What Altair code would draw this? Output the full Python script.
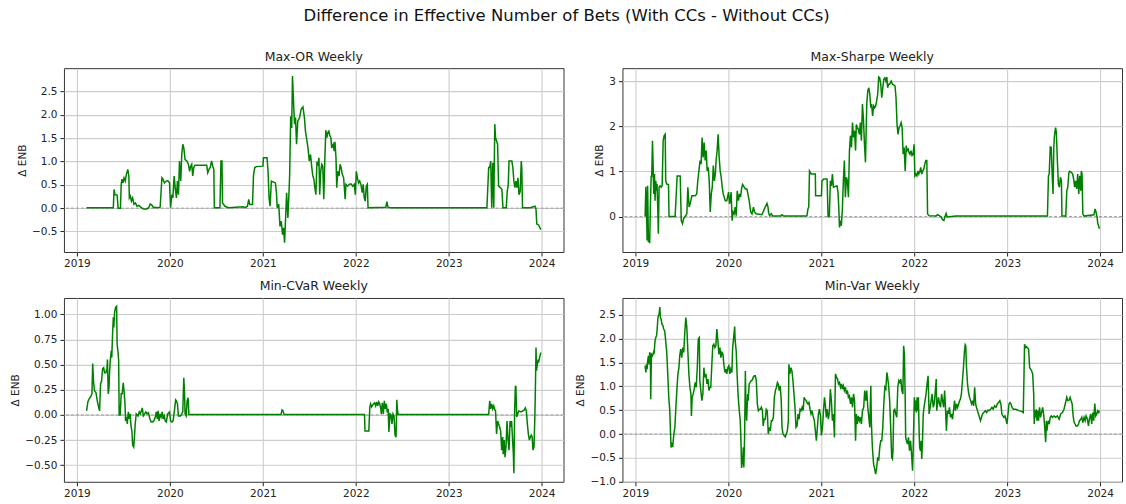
import altair as alt
import pandas as pd

# Weekly series start on this Friday; day offsets below are counted from it.
START = "2019-02-08"
FONT = "DejaVu Sans"
MAIN_TITLE = "Difference in Effective Number of Bets (With CCs - Without CCs)"
Y_TITLE = "Δ ENB"

MAX_OR_DAYS = [
    0, 105, 108, 111, 120, 124, 133, 136, 139, 143, 147, 152, 156, 162, 166, 168, 172, 176, 181, 186,
    192, 198, 205, 215, 224, 237, 244, 250, 257, 263, 270, 276, 289, 296, 300, 306, 313, 319, 326, 330,
    335, 339, 344, 348, 353, 357, 361, 365, 370, 374, 378, 382, 387, 394, 400, 405, 409, 413, 417, 421,
    426, 472, 476, 481, 486, 491, 497, 500, 502, 524, 528, 532, 534, 544, 557, 615, 622, 632, 637, 641,
    652, 656, 661, 667, 693, 695, 709, 713, 717, 721, 726, 742, 746, 749, 755, 760, 765, 770, 774, 778,
    782, 786, 791, 795, 798, 802, 806, 809, 813, 817, 821, 825, 830, 837, 843, 850, 856, 860, 864, 870,
    875, 880, 885, 889, 893, 897, 901, 905, 909, 913, 916, 920, 924, 928, 932, 936, 940, 944, 948, 952,
    956, 960, 963, 969, 973, 976, 980, 983, 987, 992, 996, 1000, 1005, 1010, 1016, 1019, 1026, 1032, 1039, 1046,
    1052, 1056, 1060, 1065, 1069, 1073, 1078, 1083, 1087, 1091, 1095, 1099, 1103, 1106, 1176, 1180, 1184, 1195, 1573, 1580,
    1584, 1588, 1592, 1596, 1600, 1604, 1607, 1611, 1615, 1619, 1626, 1632, 1636, 1649, 1653, 1657, 1660, 1671, 1675, 1679,
    1683, 1687, 1691, 1695, 1699, 1704, 1708, 1710, 1713, 1743, 1762, 1766, 1769, 1776, 1785,
]
MAX_OR_VALUES = [
    0.01, 0.01, 0.40, 0.29, 0.28, 0.00, 0.00, 0.51, 0.62, 0.54, 0.65, 0.58, 0.72, 0.83, 0.69, 0.22, 0.26, 0.15, 0.22, 0.08,
    0.11, 0.04, 0.06, 0.01, -0.02, -0.02, 0.01, 0.09, 0.06, 0.01, 0.02, 0.01, 0.02, 0.65, 0.62, 0.54, 0.58, 0.59, 0.54, 0.01,
    0.29, 0.22, 0.69, 0.44, 0.22, 0.58, 0.29, 1.01, 0.58, 1.15, 1.37, 1.29, 1.04, 1.01, 0.94, 0.79, 0.90, 0.94, 0.69, 0.87,
    0.92, 0.92, 0.76, 0.83, 0.87, 1.01, 0.87, 0.83, 0.01, 0.01, 1.01, 1.01, 0.11, 0.04, 0.01, 0.03, 0.01, 0.04, 0.19, 0.08,
    0.08, 0.72, 0.87, 0.89, 0.90, 1.08, 1.08, 0.79, 0.22, 0.04, 0.58, 0.54, 0.33, 0.01, 0.08, -0.39, -0.28, -0.57, -0.42, -0.74,
    -0.21, 0.33, -0.21, 0.29, 0.72, 1.97, 1.72, 2.83, 2.30, 1.80, 1.94, 1.37, 1.87, 1.94, 2.12, 2.17, 1.94, 1.65, 1.51, 1.29,
    1.01, 1.15, 0.87, 0.69, 0.62, 0.44, 0.29, 0.97, 0.94, 1.08, 0.29, 0.79, 0.94, 0.90, 0.19, 1.01, 1.67, 1.51, 1.62, 1.65,
    1.55, 1.51, 1.29, 1.37, 1.22, 1.42, 1.08, 0.44, 0.79, 0.69, 0.94, 0.87, 0.72, 0.65, 0.19, 0.51, 0.47, 0.51, 0.52, 0.47,
    0.51, 0.29, 0.79, 0.62, 0.54, 0.58, 0.51, 0.33, 0.51, 0.22, 0.15, 0.47, 0.51, 0.01, 0.02, 0.14, 0.02, 0.01, 0.01, 0.87,
    0.87, 1.01, 0.01, 0.97, 0.01, 1.80, 1.51, 1.44, 1.37, 0.47, 0.44, 0.40, 0.01, 0.01, 0.36, 0.51, 1.01, 1.01, 0.87, 0.58,
    0.44, 0.58, 0.44, 0.65, 0.29, 0.36, 1.01, 0.87, 0.01, 0.01, 0.04, -0.03, -0.34, -0.36, -0.46,
]

MAX_SHARPE_DAYS = [
    0, 3, 5, 8, 10, 13, 16, 18, 21, 24, 26, 29, 31, 34, 37, 39, 42, 45, 47, 50,
    52, 55, 59, 63, 67, 71, 75, 79, 81, 85, 92, 94, 118, 126, 138, 142, 147, 151, 157, 164,
    168, 173, 177, 184, 197, 203, 207, 213, 216, 220, 224, 228, 232, 236, 240, 244, 248, 252, 256, 260,
    264, 268, 272, 276, 279, 283, 287, 291, 295, 299, 303, 307, 315, 321, 328, 332, 336, 338, 342, 346,
    350, 354, 358, 362, 367, 371, 375, 379, 383, 394, 400, 404, 409, 415, 420, 426, 430, 436, 459, 466,
    472, 479, 483, 485, 489, 496, 501, 531, 538, 544, 630, 636, 640, 643, 646, 649, 653, 669, 670, 693,
    695, 702, 715, 719, 724, 728, 732, 736, 740, 754, 758, 761, 764, 768, 771, 775, 779, 783, 787, 791,
    795, 799, 803, 807, 811, 815, 819, 823, 827, 830, 834, 838, 842, 846, 850, 854, 858, 862, 866, 871,
    875, 879, 883, 887, 890, 894, 898, 902, 906, 910, 914, 918, 922, 926, 930, 934, 938, 942, 946, 950,
    953, 957, 961, 967, 972, 982, 986, 990, 994, 998, 1002, 1006, 1010, 1014, 1018, 1022, 1026, 1030, 1034, 1037,
    1041, 1045, 1049, 1053, 1057, 1060, 1064, 1068, 1072, 1075, 1079, 1083, 1087, 1091, 1095, 1099, 1103, 1107, 1110, 1115,
    1141, 1150, 1156, 1163, 1169, 1174, 1178, 1183, 1187, 1203, 1220, 1581, 1585, 1588, 1592, 1596, 1600, 1603, 1606, 1608,
    1611, 1613, 1616, 1620, 1624, 1628, 1632, 1636, 1638, 1653, 1657, 1661, 1665, 1668, 1675, 1680, 1684, 1688, 1692, 1696,
    1700, 1704, 1708, 1712, 1714, 1717, 1720, 1725, 1764, 1768, 1772, 1776, 1779, 1782, 1785,
]
MAX_SHARPE_VALUES = [
    0.00, 0.66, 0.35, -0.53, 0.68, -0.57, -0.38, -0.59, 0.32, 0.90, 0.87, 1.68, 1.24, 0.50, 0.94, 0.35, 0.79, 0.57, 0.72, 0.13,
    -0.38, 0.65, 0.68, 0.65, 0.68, 1.68, 1.79, 1.82, 0.79, 0.72, 0.71, 0.00, 0.00, 0.90, 0.90, -0.09, -0.16, -0.05, 0.00, 0.06,
    0.65, 0.21, 0.28, 0.46, 0.46, 0.50, 0.79, 1.09, 1.24, 1.16, 1.75, 1.31, 1.64, 1.24, 1.46, 1.01, 1.09, 0.79, 0.10, 0.50,
    0.65, 1.13, 0.79, 0.94, 1.24, 1.46, 1.82, 1.31, 1.01, 0.87, 0.65, 0.50, 0.35, 0.35, 0.54, 0.28, 0.43, 0.54, -0.09, 0.10,
    0.06, 0.21, 0.02, 0.57, 0.35, 0.50, 0.43, 0.61, 0.71, 0.61, 0.61, 0.50, 0.35, 0.10, 0.06, 0.21, 0.10, 0.06, 0.04, 0.13,
    0.21, 0.29, 0.21, 0.10, 0.02, 0.06, 0.01, 0.01, 0.04, 0.01, 0.01, 0.02, 0.17, 0.21, 1.01, 0.98, 0.94, 0.94, 0.46, 0.46,
    0.79, 0.83, 0.83, 0.00, 0.00, 0.79, 0.68, 0.94, 0.65, 0.68, 0.54, 0.21, -0.24, -0.09, -0.20, 0.13, 0.79, 1.24, 0.43, 0.87,
    0.79, 0.43, 1.46, 1.79, 1.53, 2.08, 1.75, 1.90, 1.46, 2.04, 1.97, 1.93, 1.82, 2.08, 1.68, 2.49, 2.15, 1.60, 1.20, 2.49,
    2.78, 2.85, 2.71, 2.41, 2.49, 2.23, 2.45, 2.41, 2.45, 2.56, 2.71, 3.09, 3.07, 2.93, 2.63, 2.85, 3.04, 3.07, 3.00, 3.09,
    2.85, 2.93, 2.93, 3.00, 2.93, 2.89, 2.63, 2.04, 1.82, 1.97, 2.01, 2.08, 1.97, 1.38, 1.53, 1.01, 1.57, 1.46, 1.49, 1.42,
    1.38, 1.46, 1.35, 1.38, 1.60, 0.90, 0.94, 0.90, 1.01, 0.94, 0.98, 1.09, 0.94, 1.01, 1.05, 1.16, 1.24, 1.24, 0.06, 0.02,
    0.01, 0.04, 0.02, -0.01, -0.07, -0.09, -0.01, 0.07, -0.01, 0.00, 0.01, 0.01, 0.90, 0.94, 1.54, 1.53, 0.87, 0.50, 1.53, 1.75,
    1.90, 1.97, 1.86, 1.24, 0.72, 0.65, 0.87, 0.79, 0.01, 0.01, 0.57, 0.65, 0.96, 1.00, 0.98, 0.94, 0.83, 0.65, 0.79, 0.61,
    0.94, 0.50, 0.90, 0.57, 1.01, 0.94, 0.06, 0.01, 0.04, 0.17, 0.10, -0.01, -0.16, -0.20, -0.27,
]

MIN_CVAR_DAYS = [
    0, 5, 10, 16, 21, 24, 27, 31, 37, 42, 47, 51, 55, 59, 63, 67, 71, 76, 80, 82,
    85, 88, 90, 93, 97, 99, 102, 105, 107, 110, 114, 118, 120, 123, 126, 128, 132, 136, 140, 144,
    147, 151, 153, 157, 160, 164, 168, 171, 175, 178, 181, 185, 188, 191, 195, 202, 207, 211, 215, 219,
    223, 228, 233, 238, 243, 249, 254, 259, 264, 270, 274, 278, 281, 285, 289, 293, 297, 301, 305, 309,
    313, 319, 326, 330, 335, 340, 346, 350, 353, 357, 361, 369, 374, 378, 382, 385, 387, 391, 395, 399,
    402, 764, 768, 772, 776, 1092, 1094, 1109, 1113, 1116, 1120, 1124, 1128, 1132, 1136, 1140, 1144, 1148, 1152, 1156,
    1158, 1162, 1166, 1170, 1174, 1178, 1181, 1185, 1188, 1192, 1196, 1200, 1204, 1208, 1212, 1216, 1219, 1221, 1224, 1580,
    1584, 1588, 1592, 1596, 1600, 1603, 1607, 1611, 1615, 1619, 1623, 1627, 1631, 1635, 1637, 1641, 1644, 1648, 1652, 1656,
    1660, 1664, 1668, 1670, 1674, 1677, 1679, 1682, 1685, 1687, 1690, 1694, 1698, 1707, 1720, 1724, 1728, 1732, 1736, 1740,
    1744, 1747, 1751, 1754, 1758, 1761, 1763, 1766, 1768, 1771, 1774, 1776, 1780, 1785,
]
MIN_CVAR_VALUES = [
    0.04, 0.13, 0.16, 0.18, 0.21, 0.51, 0.34, 0.24, 0.22, 0.14, 0.08, 0.04, 0.31, 0.34, 0.46, 0.47, 0.42, 0.42, 0.46, 0.55,
    0.21, 0.27, 0.41, 0.54, 0.64, 0.57, 0.80, 0.97, 0.87, 1.02, 1.07, 1.08, 0.70, 0.64, 0.54, 0.00, 0.00, 0.21, 0.21, 0.32,
    0.24, 0.11, -0.06, -0.02, -0.09, 0.03, -0.04, 0.01, -0.12, -0.16, -0.30, -0.32, -0.22, -0.09, 0.01, -0.01, 0.03, 0.01, 0.04, 0.07,
    -0.01, 0.01, 0.03, 0.01, 0.02, -0.04, -0.07, -0.07, -0.06, -0.02, 0.03, -0.04, 0.04, -0.06, 0.01, -0.02, 0.03, -0.04, -0.01, -0.06,
    -0.07, 0.01, 0.03, -0.06, -0.07, -0.06, 0.06, 0.15, 0.14, 0.11, -0.01, -0.01, 0.01, 0.03, 0.37, 0.21, 0.01, -0.01, 0.14, 0.17,
    0.003, 0.003, 0.05, 0.04, 0.003, 0.003, -0.16, -0.16, 0.08, 0.11, 0.08, 0.10, 0.11, 0.12, 0.09, 0.13, 0.09, 0.13, 0.11, 0.06,
    0.01, 0.12, 0.01, 0.14, 0.06, 0.11, 0.04, 0.06, -0.17, 0.01, 0.00, -0.09, 0.01, -0.01, -0.20, -0.22, 0.15, 0.06, 0.003, 0.003,
    0.14, 0.06, 0.11, 0.06, 0.09, 0.06, 0.04, -0.19, -0.06, -0.09, -0.12, -0.16, -0.35, -0.22, -0.39, -0.25, -0.42, -0.32, -0.06, -0.25,
    -0.35, -0.06, -0.12, -0.06, -0.25, -0.39, -0.58, 0.04, 0.29, 0.28, -0.02, 0.01, 0.04, 0.03, 0.05, 0.07, 0.04, -0.09, -0.19, -0.25,
    -0.22, -0.20, -0.22, -0.35, -0.32, -0.06, 0.17, 0.67, 0.44, 0.50, 0.55, 0.52, 0.57, 0.62,
]

MIN_VAR_DAYS = [
    0, 3, 5, 8, 10, 13, 16, 18, 21, 22, 25, 29, 33, 35, 39, 42, 45, 47, 50, 52,
    55, 58, 60, 63, 66, 70, 73, 77, 81, 85, 89, 93, 97, 100, 102, 106, 109, 113, 117, 121,
    125, 129, 133, 136, 140, 144, 148, 152, 156, 160, 164, 168, 172, 176, 180, 182, 185, 189, 193, 197,
    201, 205, 209, 213, 215, 219, 223, 227, 231, 235, 239, 243, 247, 251, 255, 258, 262, 266, 270, 274,
    278, 282, 286, 290, 294, 298, 302, 306, 310, 314, 318, 321, 325, 329, 333, 337, 341, 344, 348, 352,
    354, 358, 362, 366, 370, 374, 377, 379, 383, 386, 388, 391, 394, 396, 399, 403, 405, 409, 413, 417,
    421, 425, 429, 433, 437, 441, 445, 449, 453, 457, 461, 464, 468, 472, 476, 480, 484, 488, 492, 496,
    500, 504, 508, 512, 516, 520, 523, 527, 531, 535, 538, 542, 546, 551, 555, 559, 563, 565, 569, 573,
    577, 581, 585, 589, 593, 597, 601, 605, 609, 613, 617, 621, 625, 628, 632, 636, 640, 644, 648, 652,
    656, 660, 665, 669, 673, 677, 681, 685, 689, 693, 697, 701, 705, 708, 712, 716, 720, 724, 728, 732,
    736, 740, 744, 748, 752, 756, 760, 764, 768, 772, 775, 779, 783, 787, 791, 795, 799, 803, 807, 811,
    815, 819, 823, 827, 830, 834, 838, 842, 846, 850, 854, 859, 863, 867, 871, 875, 879, 883, 887, 889,
    892, 894, 898, 902, 906, 910, 914, 918, 922, 926, 930, 934, 938, 942, 946, 950, 953, 957, 961, 965,
    969, 972, 974, 977, 981, 985, 989, 993, 997, 1001, 1005, 1009, 1013, 1016, 1019, 1022, 1024, 1027, 1031, 1035,
    1039, 1043, 1047, 1051, 1053, 1056, 1058, 1061, 1064, 1066, 1069, 1072, 1074, 1077, 1079, 1082, 1085, 1087, 1090, 1093,
    1096, 1100, 1104, 1108, 1112, 1116, 1120, 1124, 1128, 1132, 1136, 1140, 1144, 1146, 1149, 1153, 1157, 1161, 1165, 1169,
    1173, 1177, 1180, 1184, 1188, 1192, 1196, 1200, 1204, 1208, 1212, 1216, 1220, 1224, 1228, 1232, 1236, 1239, 1243, 1247,
    1251, 1255, 1258, 1260, 1263, 1267, 1271, 1275, 1279, 1283, 1287, 1291, 1295, 1299, 1302, 1306, 1310, 1314, 1318, 1322,
    1326, 1331, 1337, 1342, 1347, 1352, 1358, 1363, 1368, 1373, 1379, 1384, 1389, 1394, 1398, 1402, 1406, 1410, 1414, 1418,
    1422, 1426, 1430, 1434, 1438, 1442, 1447, 1457, 1468, 1481, 1486, 1489, 1491, 1495, 1499, 1503, 1507, 1511, 1515, 1519,
    1523, 1527, 1529, 1532, 1535, 1537, 1540, 1543, 1546, 1550, 1554, 1558, 1562, 1566, 1570, 1574, 1577, 1579, 1582, 1585,
    1588, 1592, 1596, 1600, 1607, 1613, 1620, 1627, 1633, 1640, 1646, 1651, 1657, 1661, 1666, 1670, 1674, 1678, 1682, 1686,
    1690, 1693, 1699, 1703, 1707, 1712, 1716, 1720, 1725, 1729, 1733, 1738, 1742, 1746, 1751, 1755, 1759, 1763, 1767, 1771,
    1775, 1779, 1783, 1785,
]
MIN_VAR_VALUES = [
    1.43, 1.29, 1.46, 1.36, 1.53, 1.64, 1.46, 1.71, 1.57, 0.73, 1.67, 1.64, 1.71, 1.67, 1.95, 2.02, 2.06, 2.16, 2.41, 2.48,
    2.51, 2.66, 2.44, 2.41, 2.30, 2.27, 2.20, 2.16, 1.95, 1.71, 1.26, 0.77, 0.49, 0.00, -0.28, -0.21, -0.24, 0.00, 0.14, 0.56,
    0.94, 1.26, 1.39, 1.64, 1.78, 1.60, 1.81, 1.71, 2.13, 2.44, 2.23, 1.74, 1.26, 0.98, 0.84, 0.38, 0.77, 0.84, 0.94, 1.08,
    0.98, 1.39, 1.99, 2.02, 1.12, 0.91, 0.70, 0.84, 1.39, 1.19, 1.26, 1.05, 1.15, 0.91, 0.98, 0.98, 1.43, 1.85, 1.88, 1.81,
    1.85, 2.20, 1.95, 1.67, 1.81, 1.60, 1.71, 1.67, 1.43, 1.29, 1.36, 1.26, 1.39, 1.43, 1.26, 1.36, 1.29, 1.81, 2.02, 2.25,
    1.95, 1.74, 1.19, 0.77, 0.49, 0.28, -0.21, -0.71, -0.56, -0.28, -0.70, -0.07, 1.32, 0.63, 0.28, 0.84, 0.70, 1.05, 1.08, 1.12,
    1.13, 1.19, 1.22, 1.22, 1.12, 0.63, 0.49, 0.52, 0.52, 0.56, 0.49, 0.17, 0.31, 0.31, 0.52, 0.49, 0.00, 0.14, 0.07, 0.28,
    0.28, 0.35, 0.77, 0.91, 0.98, 1.08, 1.05, 0.91, 1.01, 0.70, 0.14, 0.00, -0.03, -0.06, 0.00, 0.07, 0.28, 1.46, 1.26, 1.39,
    1.32, 1.12, 0.84, 0.56, 0.14, 0.17, 0.42, 0.31, 0.52, 0.49, 0.56, 0.49, 0.77, 0.73, 0.71, 0.66, 0.63, 0.66, 0.52, 0.42,
    0.49, 0.38, 0.28, 0.07, -0.14, 0.14, 0.42, 0.52, 0.38, -0.03, 0.14, 0.49, 0.77, 0.63, 0.35, 0.52, 0.31, 0.45, 0.94, 0.70,
    0.28, 0.42, -0.07, 1.26, 1.19, 1.15, 1.05, 1.08, 0.98, 1.05, 0.94, 1.01, 0.91, 0.98, 0.84, 0.91, 0.77, 0.80, 0.63, 0.77,
    0.56, 0.84, 0.70, -0.14, 0.42, 0.21, 0.38, 0.28, 0.35, 0.21, 0.49, 0.56, 0.91, 0.70, 0.91, 0.56, 0.35, 0.14, 1.01, 0.28,
    -0.14, -0.35, -0.63, -0.73, -0.84, -0.70, -0.49, -0.56, -0.28, -0.14, -0.14, 0.14, 0.63, 0.98, 0.94, 1.29, 1.19, 1.01, 0.70, 0.14,
    -0.49, -0.52, -0.35, 0.49, 0.52, 0.42, 0.35, 0.98, 1.12, 1.08, 1.15, 0.91, 0.84, 1.85, 1.67, 0.77, -0.07, -0.14, -0.21, -0.07,
    -0.35, -0.14, -0.42, -0.77, -0.42, 0.28, 0.77, 0.49, 0.70, 0.45, 0.77, 0.49, 0.77, 0.00, -0.28, -0.35, -0.14, -0.52, -0.14, 0.42,
    0.56, 0.70, 0.84, 1.05, 1.22, 0.42, 0.56, 0.70, 0.84, 0.56, 0.63, 0.87, 1.15, 0.49, 0.63, 0.77, 0.63, 0.56, 0.84, 0.70,
    0.56, 0.91, 0.59, 0.07, 0.49, 0.42, 0.56, 0.35, 0.42, 0.31, 0.49, 0.70, 0.49, 0.63, 0.56, 0.63, 0.70, 0.73, 0.84, 1.12,
    1.39, 1.74, 1.87, 1.85, 1.39, 1.05, 0.87, 0.77, 0.70, 0.63, 0.70, 0.59, 0.98, 0.63, 0.56, 0.49, 0.42, 0.35, 0.28, 0.35,
    0.42, 0.45, 0.49, 0.45, 0.50, 0.49, 0.52, 0.56, 0.52, 0.59, 0.56, 0.63, 0.66, 0.70, 0.63, 0.42, 0.38, 0.35, 0.38, 0.31,
    0.21, 0.42, 0.63, 0.66, 0.63, 0.56, 0.52, 0.52, 0.49, 0.47, 0.45, 1.26, 1.88, 1.81, 1.83, 1.80, 1.78, 1.39, 1.36, 1.32,
    1.26, 0.84, 0.21, 0.49, 0.35, 0.52, 0.28, 0.49, 0.28, 0.56, 0.35, 0.45, 0.56, 0.42, 0.17, -0.17, 0.28, 0.07, 0.21, 0.28,
    0.21, 0.35, 0.38, 0.35, 0.38, 0.35, 0.38, 0.31, 0.42, 0.45, 0.52, 0.63, 0.77, 0.70, 0.71, 0.77, 0.70, 0.63, 0.38, 0.24,
    0.21, 0.17, 0.17, 0.21, 0.28, 0.31, 0.35, 0.24, 0.35, 0.28, 0.38, 0.31, 0.17, 0.31, 0.42, 0.21, 0.45, 0.28, 0.64, 0.38,
    0.42, 0.49, 0.45, 0.49,
]

X_DOMAIN = [alt.DateTime(year=2018, month=11, date=11), alt.DateTime(year=2024, month=3, date=27)]
YEAR_TICKS = [alt.DateTime(year=y, month=1, date=1) for y in range(2019, 2025)]


def panel(title, days, values, y_domain, y_ticks, y_format):
    df = pd.DataFrame({
        "date": pd.Timestamp(START) + pd.to_timedelta(days, unit="D"),
        "enb": values,
    })
    x = alt.X(
        "date:T",
        scale=alt.Scale(domain=X_DOMAIN, nice=False),
        axis=alt.Axis(values=YEAR_TICKS, tickCount=20, format="%Y", title=None,
                      labelFlush=False, labelOverlap=False),
    )
    y = alt.Y(
        "enb:Q",
        scale=alt.Scale(domain=y_domain, nice=False, zero=False),
        axis=alt.Axis(values=y_ticks, tickCount=20, format=y_format, title=Y_TITLE,
                      labelFlush=False, labelOverlap=False),
    )
    zero = alt.Chart(pd.DataFrame({"enb": [0.0]})).mark_rule(
        color="#8c8c8c", strokeDash=[3, 2], strokeWidth=0.8
    ).encode(y=y)
    line = alt.Chart(df).mark_line(color="green", strokeWidth=1.5).encode(x=x, y=y)
    return alt.layer(zero, line).properties(
        width=500,
        height=184,
        title=alt.TitleParams(title, fontSize=12.5, font=FONT, fontWeight="normal", color="#222", offset=5),
    )


p1 = panel("Max-OR Weekly", MAX_OR_DAYS, MAX_OR_VALUES, [-0.94, 3.0],
           [-0.5, 0.0, 0.5, 1.0, 1.5, 2.0, 2.5], ".1f")
p2 = panel("Max-Sharpe Weekly", MAX_SHARPE_DAYS, MAX_SHARPE_VALUES, [-0.785, 3.285],
           [0, 1, 2, 3], "d")
p3 = panel("Min-CVaR Weekly", MIN_CVAR_DAYS, MIN_CVAR_VALUES, [-0.665, 1.163],
           [-0.5, -0.25, 0.0, 0.25, 0.5, 0.75, 1.0], ".2f")
p4 = panel("Min-Var Weekly", MIN_VAR_DAYS, MIN_VAR_VALUES, [-1.0, 2.85],
           [-1.0, -0.5, 0.0, 0.5, 1.0, 1.5, 2.0, 2.5], ".1f")

chart = alt.concat(
    p1, p2, p3, p4,
    columns=2,
    spacing={"row": 46, "column": 59},
    bounds="flush",
).properties(
    title=alt.TitleParams(MAIN_TITLE, fontSize=16.5, font=FONT, fontWeight="normal",
                          color="#111", anchor="middle", offset=26),
    padding={"left": 10, "top": 7, "right": 3, "bottom": 1},
).configure_axis(
    labelFont=FONT,
    labelFontSize=10.5,
    labelColor="#222",
    titleFont=FONT,
    titleFontSize=10.5,
    titleFontWeight="normal",
    titleColor="#222",
    tickColor="#222",
    tickSize=4,
    labelPadding=3,
    gridColor="#cdcdcd",
    gridWidth=1.1,
    domain=False,
).configure_axisY(
    titlePadding=4,
).configure_view(
    stroke="#333",
    strokeWidth=1,
)

chart.save("out.html", embed_options={"renderer": "svg", "actions": False})
